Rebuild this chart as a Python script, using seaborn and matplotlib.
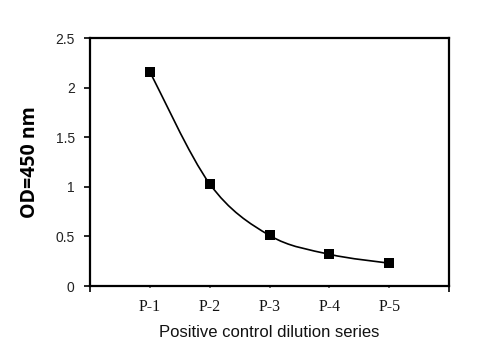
import numpy as np
import pandas as pd
import matplotlib
matplotlib.use("Agg")
import matplotlib.pyplot as plt
from matplotlib.path import Path
from matplotlib.patches import PathPatch
import seaborn as sns

# dane
samples = ["P-1", "P-2", "P-3", "P-4", "P-5"]
od_values = [2.16, 1.03, 0.51, 0.32, 0.23]
y_ticks = [0, 0.5, 1, 1.5, 2, 2.5]
y_tick_labels = ["0", "0.5", "1", "1.5", "2", "2.5"]

sns.set_theme(style="white")
plt.rcParams["font.family"] = ["Liberation Sans", "DejaVu Sans"]

df = pd.DataFrame({"pos": np.arange(1, len(samples) + 1), "od": od_values})

fig = plt.figure(figsize=(4.85, 3.56), dpi=100)
ax = fig.add_axes([0.1856, 0.1966, 0.7402, 0.6966])

# wygladzona linia (Bezier, jak "smoothed line" w Excelu)
pts = df[["pos", "od"]].to_numpy(dtype=float)
ext = np.vstack([pts[0], pts, pts[-1]])
verts = [tuple(pts[0])]
codes = [Path.MOVETO]
for i in range(len(pts) - 1):
    p0, p1, p2, p3 = ext[i], ext[i + 1], ext[i + 2], ext[i + 3]
    c1 = p1 + (p2 - p0) / 6
    c2 = p2 - (p3 - p1) / 6
    verts += [tuple(c1), tuple(c2), tuple(p2)]
    codes += [Path.CURVE4] * 3
ax.add_patch(PathPatch(Path(verts, codes), facecolor="none", edgecolor="black", lw=1.2, zorder=2))

sns.scatterplot(data=df, x="pos", y="od", marker="s", s=42, color="black",
                edgecolor="black", linewidth=0, ax=ax, zorder=3)

ax.set_xlim(0, 6)
ax.set_ylim(0, 2.5)

ax.set_yticks(y_ticks)
ax.set_yticklabels(y_tick_labels, fontsize=10, color="#222222")
ax.tick_params(axis="y", direction="out", length=4, width=1.2, color="black", pad=7, left=True)

ax.set_xticks(df["pos"])
ax.set_xticklabels(samples, fontsize=11.5, family=["Liberation Serif"], color="#111111")
ax.set_xticks([0, 6], minor=True)
ax.tick_params(axis="x", which="major", direction="out", length=1.5, width=1.2, color="#555555", pad=8, bottom=True)
ax.tick_params(axis="x", which="minor", direction="out", length=4, width=1.2, color="black", bottom=True)

for side in ["left", "right", "top", "bottom"]:
    ax.spines[side].set_visible(True)
    ax.spines[side].set_color("black")
    ax.spines[side].set_linewidth(1.6)

ax.set_xlabel("Positive control dilution series", fontsize=12, labelpad=7, color="#111111")
ax.set_ylabel("OD=450 nm", fontsize=14, fontweight="bold", labelpad=11, color="black",
              family=["Open Sans", "DejaVu Sans"])
ax.grid(False)

fig.savefig("out.png", dpi=100)
